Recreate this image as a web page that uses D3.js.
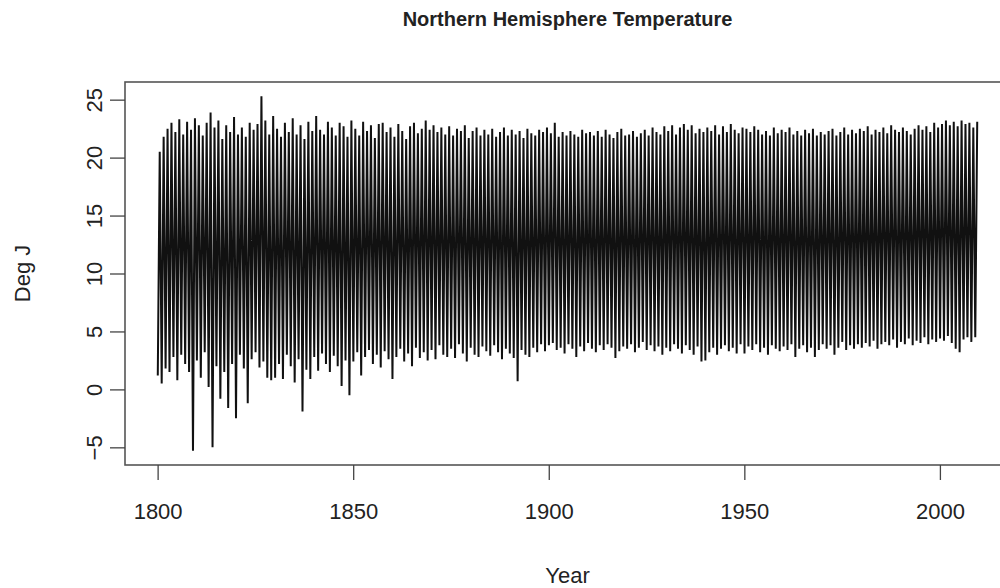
<!DOCTYPE html>
<html>
<head>
<meta charset="utf-8">
<script src="https://cdn.jsdelivr.net/npm/d3@7"></script>
<style>
  html, body { margin: 0; padding: 0; background: #fff; }
  svg { display: block; }
  text { font-family: "Liberation Sans", Arial, sans-serif; fill: #222; }
</style>
</head>
<body>
<svg id="chart" width="1000" height="588"></svg>
<script>
// ---- Data ----
const title = "Northern Hemisphere Temperature";
const xLabel = "Year";
const yLabel = "Deg J";
const firstYear = 1800;
// Yearly summer peaks (Deg J), 1800..2009
const summerPeaks = [
  20.5, 21.8, 22.5, 23.0, 22.2, 23.3, 22.0, 23.1, 22.4, 23.4,
  22.8, 21.9, 23.0, 23.9, 22.6, 23.2, 21.6, 22.8, 22.2, 23.5,
  22.0, 22.6, 21.8, 23.0, 22.4, 22.9, 25.3, 23.2, 22.0, 23.6,
  22.5, 21.8, 23.0, 22.2, 23.4, 22.0, 22.8, 21.6, 23.1, 22.3,
  23.6, 22.4, 22.0, 23.1, 22.6, 21.9, 23.0, 22.7, 21.8, 23.2,
  22.5, 21.9, 23.1, 22.3, 22.8, 21.7, 22.9, 23.0, 22.2, 22.6,
  21.8, 22.9, 22.3, 21.6, 22.7, 23.0, 22.1, 22.5, 23.2, 22.4,
  22.8, 22.2, 22.6, 22.0, 22.7, 21.9, 22.5, 22.3, 22.8, 21.7,
  22.3, 22.6, 21.9, 22.4, 22.0, 22.5, 21.8, 22.2, 22.6, 21.9,
  22.4, 22.0, 22.3, 21.7, 22.5, 22.1, 21.9, 22.4, 22.2, 22.6,
  22.1, 23.0, 21.8, 22.2, 21.9, 22.3, 22.0, 21.8, 22.4, 22.1,
  22.2, 21.9, 22.3, 21.8, 22.4, 22.0, 21.7, 22.2, 22.5, 21.9,
  22.0, 22.3, 21.8, 22.1, 22.4, 21.9, 22.6, 22.2, 22.0, 22.7,
  22.3, 22.8, 22.0, 22.6, 22.9, 22.4, 22.8, 22.1, 22.5, 22.2,
  22.6, 22.3, 22.8, 22.0, 22.7, 22.2, 22.9, 22.4, 22.1, 22.6,
  22.5, 22.2, 22.7, 22.4, 22.0, 22.3, 21.9, 22.6, 22.1, 22.4,
  22.2, 22.6, 22.0, 22.3, 21.9, 22.4, 22.1, 22.5, 21.9, 22.2,
  22.0, 22.3, 22.5, 21.9, 22.2, 22.6, 22.0, 22.4, 22.1, 22.5,
  22.3, 22.7, 22.0, 22.4, 22.2, 22.6, 22.1, 22.8, 22.4, 22.2,
  22.6, 22.3, 22.0, 22.5, 22.8, 22.4, 22.7, 22.2, 23.0, 22.6,
  22.9, 23.2, 22.8, 23.1, 22.7, 23.2, 22.9, 23.0, 22.6, 23.1
];
// Yearly winter troughs (Deg J), 1800..2009
const winterTroughs = [
  1.2, 0.5, 1.8, 1.5, 2.8, 0.8, 3.0, 2.2, 1.5, -5.3,
  2.5, 1.0, 3.2, 0.2, -5.0, 2.0, -0.8, 1.5, -1.6, 2.2,
  -2.5, 3.0, 1.8, -1.2, 2.6, 3.2, 1.9, 2.4, 1.0, 0.8,
  1.0, 2.2, 0.9, 3.0, 2.0, 0.6, 2.6, -1.9, 1.7, 0.9,
  2.8, 1.6, 3.1, 2.2, 1.5, 2.9, 2.0, 0.3, 2.5, -0.5,
  2.4, 3.2, 1.2, 2.8, 3.4, 2.2, 3.0, 1.9, 3.3, 2.6,
  0.9, 2.8, 3.5, 2.4, 3.1, 2.0, 3.6, 2.7, 3.2, 2.5,
  3.4, 2.6, 3.8, 3.0, 2.8, 3.5, 2.7, 3.9, 3.1, 2.4,
  3.6, 3.0, 2.8, 3.7, 3.3, 2.9, 3.8, 3.2, 2.6, 3.5,
  3.1, 2.7, 0.7, 3.4, 3.0, 2.8, 3.6, 3.2, 3.9, 3.3,
  3.8, 4.0, 3.4, 3.6, 3.1, 3.9, 3.5, 2.8, 3.7, 3.3,
  4.0, 3.5, 3.2, 3.8, 3.4, 3.9, 3.6, 2.7, 3.3, 3.7,
  3.5, 3.9, 3.2, 3.6, 4.1, 3.4, 3.8, 3.3, 3.7, 3.0,
  3.6, 3.3, 3.9, 3.5, 3.1, 3.8, 3.4, 3.0, 3.7, 2.4,
  2.5, 3.2, 3.6, 3.0, 3.5, 3.8, 3.3, 3.6, 3.1, 3.9,
  3.1, 3.7, 3.4, 3.9, 3.2, 3.6, 3.0, 3.8, 3.5, 3.3,
  3.7, 3.4, 3.9, 2.8, 3.5, 3.8, 3.2, 3.6, 2.8, 3.4,
  3.9, 3.5, 3.8, 3.0, 3.6, 4.1, 3.4, 3.8, 3.5, 3.9,
  3.6, 4.0, 3.7, 4.2, 3.5, 3.9, 4.1, 3.8, 4.3, 3.6,
  4.1, 3.9, 4.4, 3.8, 4.2, 4.0, 4.5, 3.9, 4.3, 4.1,
  4.4, 4.2, 4.6, 4.0, 3.5, 3.2, 4.3, 4.5, 4.1, 4.5
];
const xTicks = [1800, 1850, 1900, 1950, 2000];
const yTicks = [-5, 0, 5, 10, 15, 20, 25];

// ---- Build series: winter (Jan) then summer (Jul) each year ----
const series = [];
winterTroughs.forEach((v, i) => {
  series.push({ t: firstYear + i + 0.04, v: v });
  series.push({ t: firstYear + i + 0.54, v: summerPeaks[i] });
});

// ---- Layout ----
const svg = d3.select("#chart");
const plot = { left: 125, right: 1010, top: 82, bottom: 465 };

const tExt = d3.extent(series, d => d.t);
const vExt = d3.extent(series, d => d.v);
const tPad = (tExt[1] - tExt[0]) * 0.04;
const vPad = (vExt[1] - vExt[0]) * 0.04;

const x = d3.scaleLinear()
  .domain([tExt[0] - tPad, tExt[1] + tPad])
  .range([plot.left, plot.right]);
const y = d3.scaleLinear()
  .domain([vExt[0] - vPad, vExt[1] + vPad])
  .range([plot.bottom, plot.top]);

// line
const line = d3.line().x(d => x(d.t)).y(d => y(d.v));
svg.append("path")
  .datum(series)
  .attr("d", line)
  .attr("fill", "none")
  .attr("stroke", "#111")
  .attr("stroke-width", 2.0)
  .attr("stroke-linejoin", "bevel");

// box
svg.append("rect")
  .attr("x", plot.left).attr("y", plot.top)
  .attr("width", plot.right - plot.left)
  .attr("height", plot.bottom - plot.top)
  .attr("fill", "none").attr("stroke", "#555").attr("stroke-width", 1.6);

// x axis
const xAxis = d3.axisBottom(x).tickValues(xTicks).tickFormat(d3.format("d"))
  .tickSize(15).tickPadding(23);
const gx = svg.append("g").attr("transform", `translate(0,${plot.bottom})`).call(xAxis);
gx.select(".domain").remove();
gx.selectAll("line").attr("stroke", "#444").attr("stroke-width", 1.3);
gx.selectAll("text").attr("font-size", 22).attr("fill", "#333")
  .style("font-family", "'Liberation Sans', Arial, sans-serif");

// y axis
const yAxis = d3.axisLeft(y).tickValues(yTicks).tickSize(15).tickPadding(10);
const gy = svg.append("g").attr("transform", `translate(${plot.left},0)`).call(yAxis);
gy.select(".domain").remove();
gy.selectAll("line").attr("stroke", "#444").attr("stroke-width", 1.3);
gy.selectAll("text")
  .attr("font-size", 22).attr("fill", "#333")
  .style("font-family", "'Liberation Sans', Arial, sans-serif")
  .attr("text-anchor", "middle")
  .attr("x", null)
  .attr("transform", d => `translate(-31,0) rotate(-90)`)
  .attr("dy", "0.36em");

// title
svg.append("text")
  .attr("x", (plot.left + plot.right) / 2)
  .attr("y", 26)
  .attr("text-anchor", "middle")
  .attr("font-size", 20)
  .attr("font-weight", "bold")
  .attr("fill", "#111")
  .text(title);

// axis titles
svg.append("text")
  .attr("x", (plot.left + plot.right) / 2)
  .attr("y", 583)
  .attr("text-anchor", "middle")
  .attr("font-size", 22)
  .attr("fill", "#333")
  .text(xLabel);

svg.append("text")
  .attr("transform", `translate(30,${(plot.top + plot.bottom) / 2}) rotate(-90)`)
  .attr("text-anchor", "middle")
  .attr("font-size", 22)
  .attr("fill", "#333")
  .text(yLabel);
</script>
</body>
</html>
